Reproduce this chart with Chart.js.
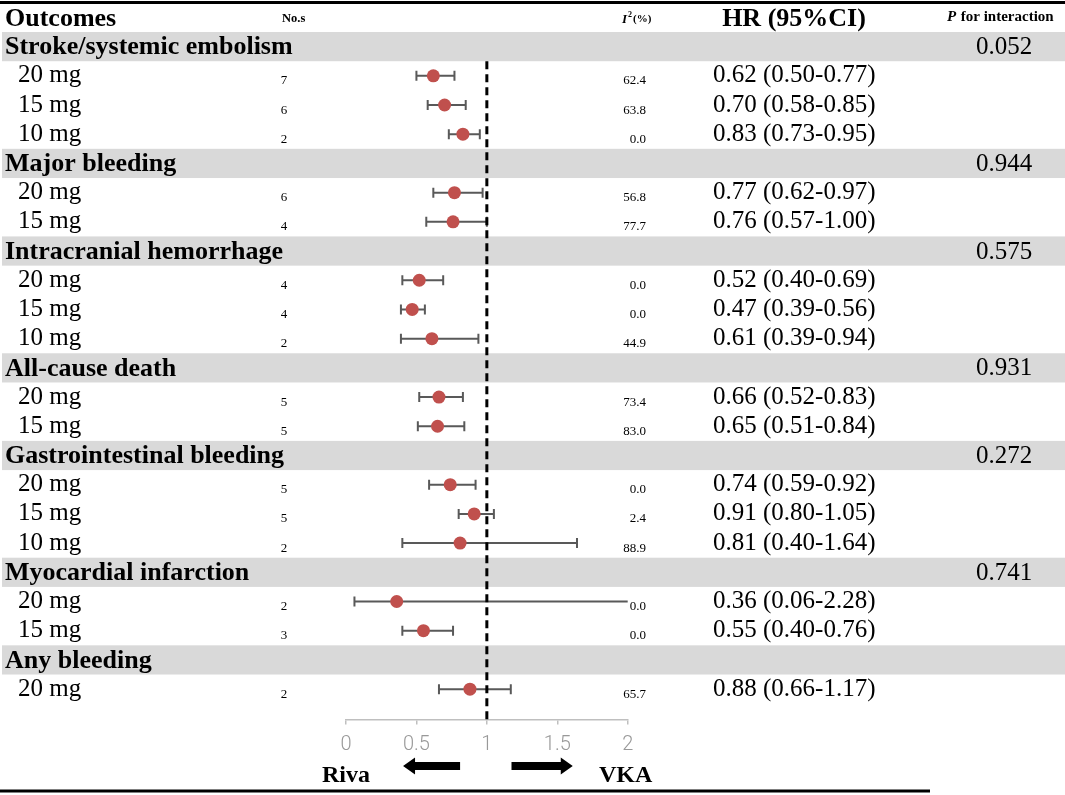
<!DOCTYPE html>
<html>
<head>
<meta charset="utf-8">
<script src="https://cdn.jsdelivr.net/npm/chart.js@4.4.1/dist/chart.umd.min.js"></script>
<style>
html,body{margin:0;padding:0;background:#fff;}
#wrap{position:relative;width:1065px;height:795px;}
</style>
</head>
<body>
<div id="wrap"><canvas id="c"></canvas></div>
<script>
// ---- data ----
const outcomes = ['Stroke/systemic embolism','Major bleeding','Intracranial hemorrhage','All-cause death','Gastrointestinal bleeding','Myocardial infarction','Any bleeding'];
const pInteraction = ['0.052','0.944','0.575','0.931','0.272','0.741',''];
const outcomeOf = [0,0,0,1,1,2,2,2,3,3,4,4,4,5,5,6];
const doses = ['20 mg','15 mg','10 mg','20 mg','15 mg','20 mg','15 mg','10 mg','20 mg','15 mg','20 mg','15 mg','10 mg','20 mg','15 mg','20 mg'];
const nStudies = [7,6,2,6,4,4,4,2,5,5,5,5,2,2,3,2];
const i2 = ['62.4','63.8','0.0','56.8','77.7','0.0','0.0','44.9','73.4','83.0','0.0','2.4','88.9','0.0','0.0','65.7'];
const hr = [0.62,0.70,0.83,0.77,0.76,0.52,0.47,0.61,0.66,0.65,0.74,0.91,0.81,0.36,0.55,0.88];
const lower = [0.50,0.58,0.73,0.62,0.57,0.40,0.39,0.39,0.52,0.51,0.59,0.80,0.40,0.06,0.40,0.66];
const upper = [0.77,0.85,0.95,0.97,1.00,0.69,0.56,0.94,0.83,0.84,0.92,1.05,1.64,2.28,0.76,1.17];
const xTicks = [0, 0.5, 1, 1.5, 2];

// ---- row layout (derived) ----
const headRow = [];
const estRow = [];
let r = 0;
outcomes.forEach((o, g) => {
  headRow[g] = r++;
  outcomeOf.forEach((gg, i) => { if (gg === g) estRow[i] = r++; });
});
const Y_MAX = 23.54;
const fmt = v => v.toFixed(2);

const SERIF = '"Liberation Serif","Times New Roman",serif';

const forestPlugin = {
  id: 'forest',
  beforeDatasetsDraw(chart) {
    const ctx = chart.ctx, xs = chart.scales.x, ys = chart.scales.y;
    ctx.save();
    // grey bands for outcome headers
    ctx.fillStyle = '#d9d9d9';
    headRow.forEach(hrow => {
      const t = ys.getPixelForValue(hrow), b = ys.getPixelForValue(hrow + 1);
      ctx.fillRect(2, t, 1063, b - t);
    });
    // error bars
    ctx.strokeStyle = '#595959';
    ctx.lineWidth = 2;
    hr.forEach((v, i) => {
      const y = ys.getPixelForValue(estRow[i] + 0.5);
      const lo = Math.max(lower[i], xs.min), hi = Math.min(upper[i], xs.max);
      const x1 = xs.getPixelForValue(lo), x2 = xs.getPixelForValue(hi);
      ctx.beginPath();
      ctx.moveTo(x1, y); ctx.lineTo(x2, y);
      if (lower[i] >= xs.min) { ctx.moveTo(x1, y - 5); ctx.lineTo(x1, y + 5); }
      if (upper[i] <= xs.max) { ctx.moveTo(x2, y - 5); ctx.lineTo(x2, y + 5); }
      ctx.stroke();
    });
    ctx.restore();
  },
  afterDraw(chart) {
    const ctx = chart.ctx, xs = chart.scales.x, ys = chart.scales.y;
    const W = chart.width;
    ctx.save();
    // top and bottom rules
    ctx.fillStyle = '#000';
    ctx.fillRect(0, 1, W, 3);
    ctx.fillRect(0, 789.5, 930, 3);

    ctx.textBaseline = 'middle';
    ctx.fillStyle = '#000';
    const hy = ys.getPixelForValue(-0.5);
    // column headers
    ctx.font = 'bold 26px ' + SERIF;
    ctx.textAlign = 'left';
    ctx.fillText('Outcomes', 5, hy + 2);
    ctx.font = 'bold 12.5px ' + SERIF;
    ctx.fillText('No.s', 282, hy + 1);
    ctx.font = 'italic bold 13px ' + SERIF;
    ctx.fillText('I', 622, hy + 2);
    ctx.font = 'bold 8px ' + SERIF;
    ctx.fillText('2', 628, hy - 2);
    ctx.font = 'bold 11px ' + SERIF;
    ctx.fillText('(%)', 633, hy + 2);
    ctx.font = 'bold 26px ' + SERIF;
    ctx.textAlign = 'center';
    ctx.fillText('HR (95%CI)', 794, hy + 2);
    ctx.textAlign = 'left';
    ctx.font = 'italic bold 15px ' + SERIF;
    ctx.fillText('P', 947, hy);
    ctx.font = 'bold 15px ' + SERIF;
    ctx.fillText(' for interaction', 957, hy);

    // outcome headers
    outcomes.forEach((o, g) => {
      const y = ys.getPixelForValue(headRow[g] + 0.5);
      ctx.font = 'bold 26px ' + SERIF;
      ctx.textAlign = 'left';
      ctx.fillText(o, 5, y + 1);
      if (pInteraction[g]) {
        ctx.font = '25px ' + SERIF;
        ctx.textAlign = 'center';
        ctx.fillText(pInteraction[g], 1004, y + 1);
      }
    });
    // estimate rows
    hr.forEach((v, i) => {
      const y = ys.getPixelForValue(estRow[i] + 0.5);
      ctx.font = '25px ' + SERIF;
      ctx.textAlign = 'left';
      ctx.textBaseline = 'middle';
      ctx.fillText(doses[i], 18, y);
      ctx.fillText(fmt(v) + ' (' + fmt(lower[i]) + '-' + fmt(upper[i]) + ')', 713, y);
      ctx.font = '13px ' + SERIF;
      ctx.textBaseline = 'alphabetic';
      ctx.textAlign = 'center';
      ctx.fillText(String(nStudies[i]), 284, y + 8.5);
      ctx.textAlign = 'right';
      ctx.fillText(i2[i], 646, y + 8.5);
    });

    // direction arrows
    const ay = 766;
    const arrow = (xTail, xTip) => {
      const dir = Math.sign(xTip - xTail);
      const headL = 12, shaftH = 8, headH = 17;
      const xb = xTip - dir * headL;
      ctx.beginPath();
      ctx.moveTo(xTail, ay - shaftH / 2);
      ctx.lineTo(xb, ay - shaftH / 2);
      ctx.lineTo(xb, ay - headH / 2);
      ctx.lineTo(xTip, ay);
      ctx.lineTo(xb, ay + headH / 2);
      ctx.lineTo(xb, ay + shaftH / 2);
      ctx.lineTo(xTail, ay + shaftH / 2);
      ctx.closePath();
      ctx.fill();
    };
    ctx.fillStyle = '#000';
    arrow(xs.getPixelForValue(0.81), xs.getPixelForValue(0.405));
    arrow(xs.getPixelForValue(1.175), xs.getPixelForValue(1.61));
    ctx.font = 'bold 24px ' + SERIF;
    ctx.textBaseline = 'alphabetic';
    ctx.textAlign = 'left';
    ctx.fillText('Riva', 322, 782);
    ctx.fillText('VKA', 599, 782);
    ctx.restore();
  }
};

new Chart(document.getElementById('c'), {
  type: 'scatter',
  data: {
    datasets: [
      {
        label: 'HR',
        data: hr.map((v, i) => ({ x: v, y: estRow[i] + 0.5 })),
        pointRadius: 6.5,
        pointHoverRadius: 6.5,
        pointBackgroundColor: '#C0504D',
        pointBorderColor: '#C0504D',
        pointBorderWidth: 0
      },
      {
        label: 'ref',
        data: [{ x: 1, y: 1 }, { x: 1, y: Y_MAX }],
        showLine: true,
        borderColor: '#000',
        borderWidth: 3,
        borderDash: [8, 5],
        pointRadius: 0,
        clip: false
      }
    ]
  },
  options: {
    responsive: true,
    maintainAspectRatio: false,
    animation: false,
    devicePixelRatio: 1,
    layout: { padding: { left: 346, right: 437.3, top: 32, bottom: 0 } },
    plugins: { legend: { display: false }, tooltip: { enabled: false } },
    scales: {
      y: { type: 'linear', min: 0, max: Y_MAX, reverse: true, display: false },
      x: {
        type: 'linear', min: 0, max: 2,
        afterBuildTicks: s => { s.ticks = xTicks.map(v => ({ value: v })); },
        afterFit: s => { s.height = 795 - 719.5; },
        grid: { display: true, drawOnChartArea: false, drawTicks: true, tickLength: 5, color: '#bfbfbf', lineWidth: 1.5 },
        border: { display: true, color: '#bfbfbf', width: 1.5 },
        ticks: {
          padding: 8,
          maxRotation: 0,
          color: '#999999',
          font: { family: 'Roboto, "Noto Sans", sans-serif', size: 20, weight: '300' },
          callback: v => String(v)
        }
      }
    }
  },
  plugins: [forestPlugin]
});
</script>
</body>
</html>
